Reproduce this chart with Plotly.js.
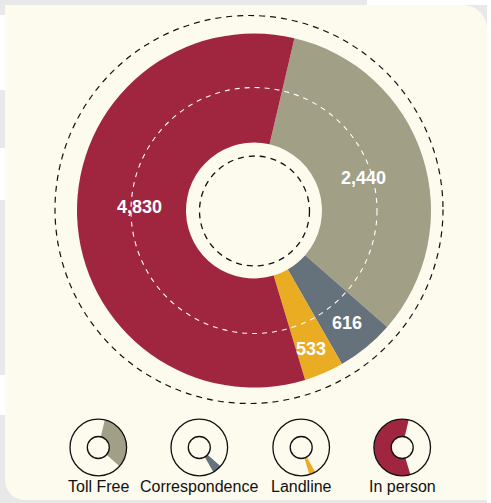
<!DOCTYPE html>
<html>
<head>
<meta charset="utf-8">
<script src="https://cdn.plot.ly/plotly-3.0.1.min.js"></script>
<style>
  html, body { margin: 0; padding: 0; }
  body { width: 491px; height: 503px; background: #e8e8e8; position: relative; overflow: hidden; }
  .patch { position: absolute; background: #ffffff; }
  #panel { position: absolute; left: 5px; top: 5px; width: 482px; height: 495px;
           background: #fdfbed; border-top-right-radius: 24px; border-bottom-left-radius: 20px; }
  #chart { position: absolute; left: 0; top: 0; width: 491px; height: 503px; }
</style>
</head>
<body>
<div class="patch" style="left:0;top:15px;width:5px;height:75px"></div>
<div class="patch" style="left:0;top:148px;width:5px;height:52px"></div>
<div class="patch" style="left:0;top:375px;width:5px;height:40px"></div>
<div class="patch" style="left:367px;top:0;width:124px;height:5px"></div>
<div class="patch" style="left:487px;top:0;width:4px;height:503px"></div>
<div id="panel"></div>
<div id="chart"></div>
<script>
// ---- data ----
const categories = ["Toll Free", "Correspondence", "Landline", "In person"];
const values = [2440, 616, 533, 4830];          // printed values
const valueLabels = ["2,440", "616", "533", "4,830"];
const arcDegrees = [118, 19, 13, 210];           // slice sizes as drawn in the picture
const colors = ["#a19f86", "#65727b", "#e9ac23", "#a0253f"];

// ---- geometry helpers (pixels -> paper) ----
const W = 491, H = 503;
const fx = x => x / W;
const fy = y => 1 - y / H;

const ROT = 13.2;
const traces = [];

// main donut
const cx = 254, cy = 210.5, R = 177, rHole = 68;
traces.push({
  type: "pie",
  values: arcDegrees,
  labels: categories,
  customdata: values,
  marker: { colors: colors, line: { width: 0 } },
  sort: false,
  direction: "clockwise",
  rotation: ROT,
  hole: rHole / R,
  textinfo: "none",
  hovertemplate: "%{label}: %{customdata}<extra></extra>",
  showlegend: false,
  domain: { x: [fx(cx - R), fx(cx + R)], y: [fy(cy + R), fy(cy - R)] }
});

// small key donuts
const keyX = [98.3, 199.3, 301.2, 402.2];
const keyY = 447.5, kR = 28.3, kr = 11;
const shapes = [];
const annotations = [];
categories.forEach((c, i) => {
  const cols = colors.map((col, j) => j === i ? col : "rgba(0,0,0,0)");
  traces.push({
    type: "pie",
    values: arcDegrees,
    labels: categories,
    marker: { colors: cols, line: { width: 0 } },
    sort: false,
    direction: "clockwise",
    rotation: ROT,
    hole: kr / kR,
    textinfo: "none",
    hoverinfo: "skip",
    showlegend: false,
    domain: { x: [fx(keyX[i] - kR), fx(keyX[i] + kR)], y: [fy(keyY + kR), fy(keyY - kR)] }
  });
  [kR, kr].forEach(r => shapes.push({
    type: "circle", xref: "paper", yref: "paper", layer: "above",
    x0: fx(keyX[i] - r), x1: fx(keyX[i] + r), y0: fy(keyY + r), y1: fy(keyY - r),
    line: { color: "#111111", width: 1.3 }
  }));
  annotations.push({
    xref: "paper", yref: "paper", x: fx(keyX[i]), y: fy(486),
    xanchor: "center", yanchor: "middle", showarrow: false,
    text: c, font: { family: "Liberation Sans, Arial, sans-serif", size: 16, color: "#111111" }
  });
});

// dashed guide circles
function circ(x, y, r, color, width, dash) {
  return { type: "circle", xref: "paper", yref: "paper", layer: "above",
    x0: fx(x - r), x1: fx(x + r), y0: fy(y + r), y1: fy(y - r),
    line: { color: color, width: width, dash: dash } };
}
shapes.push(circ(249, 209.5, 194, "#111111", 1.2, "6px,5px"));
shapes.push(circ(cx, cy, 123, "#ffffff", 1.1, "5px,5px"));
shapes.push(circ(254.5, 211, 55, "#111111", 1.3, "6px,5px"));

// value labels
const labelPos = [[363, 178], [347, 323], [311, 349], [139, 207]];
valueLabels.forEach((t, i) => annotations.push({
  xref: "paper", yref: "paper", x: fx(labelPos[i][0]), y: fy(labelPos[i][1]),
  xanchor: "center", yanchor: "middle", showarrow: false,
  text: "<b>" + t + "</b>",
  font: { family: "Liberation Sans, Arial, sans-serif", size: 18, color: "#ffffff" }
}));

Plotly.newPlot("chart", traces, {
  width: W, height: H,
  margin: { l: 0, r: 0, t: 0, b: 0 },
  paper_bgcolor: "rgba(0,0,0,0)",
  plot_bgcolor: "rgba(0,0,0,0)",
  showlegend: false,
  shapes: shapes,
  annotations: annotations
}, { displayModeBar: false, staticPlot: true });
</script>
</body>
</html>
